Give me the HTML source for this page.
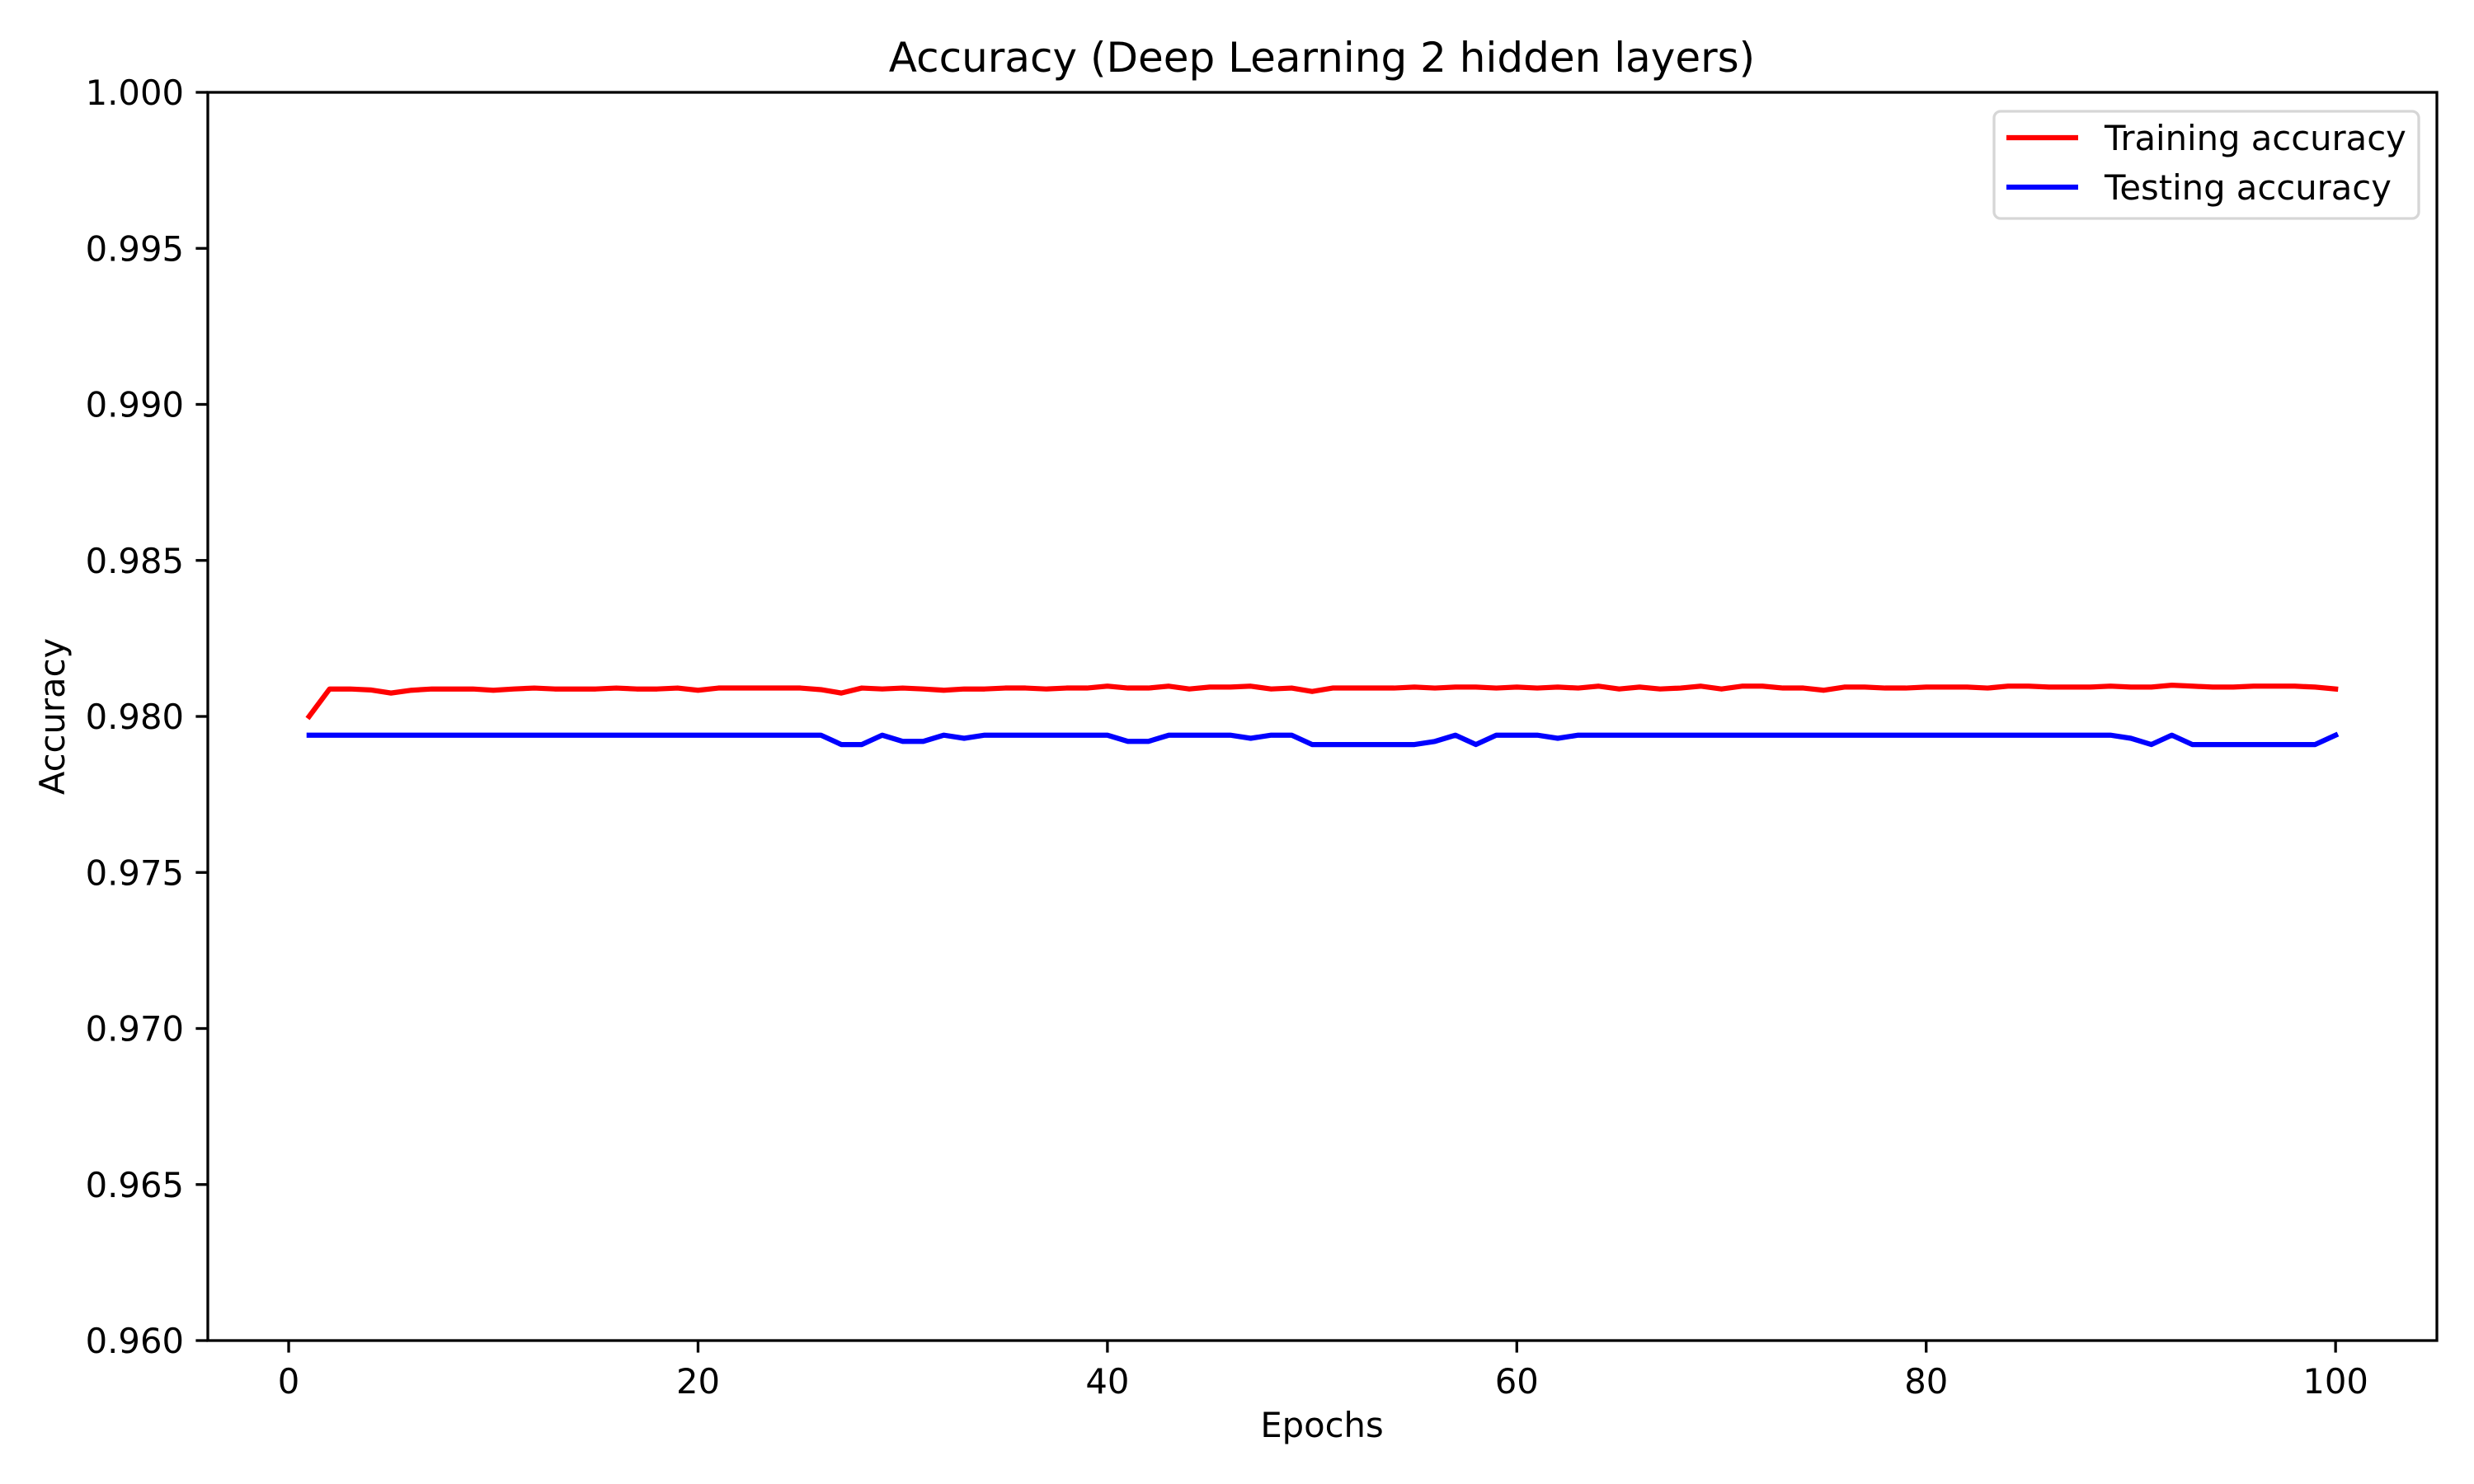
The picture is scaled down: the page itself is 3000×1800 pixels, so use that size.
<!DOCTYPE html>
<html><head><meta charset="utf-8"><style>
html,body{margin:0;padding:0;background:#fff;}
svg{display:block;font-family:"DejaVu Sans","Liberation Sans",sans-serif;}
</style></head><body>
<svg id="chart" width="3000" height="1800" viewBox="0 0 3000 1800" xmlns="http://www.w3.org/2000/svg">
<rect x="0" y="0" width="3000" height="1800" fill="#fff"/>
<text x="1603" y="87" font-size="50" text-anchor="middle">Accuracy (Deep Learning 2 hidden layers)</text>
<g id="grid"></g>
<g id="series"></g>
<rect x="252" y="112" width="2703" height="1514" fill="none" stroke="#000" stroke-width="3.3"/>
<g id="ticks"></g>
<text x="1603" y="1743" font-size="41.7" text-anchor="middle">Epochs</text>
<text x="0" y="0" font-size="41.7" text-anchor="middle" transform="translate(78,869) rotate(-90)">Accuracy</text>
<g>
<rect x="2418" y="135" width="515" height="130" rx="8" fill="#fff" fill-opacity="0.8" stroke="#d6d6d6" stroke-width="3.3"/>
<line x1="2433" y1="167" x2="2520" y2="167" stroke="#ff0000" stroke-width="6.25"/>
<text x="2552" y="182" font-size="41.7">Training accuracy</text>
<line x1="2433" y1="227" x2="2520" y2="227" stroke="#0000ff" stroke-width="6.25"/>
<text x="2552" y="242" font-size="41.7">Testing accuracy</text>
</g>
</svg>
<script>
const trainAcc = [0.9800,0.98088,0.98088,0.98085,0.98075,0.98084,0.98088,0.98088,0.98088,0.98084,
0.98088,0.98091,0.98088,0.98088,0.98088,0.98091,0.98088,0.98088,0.98091,0.98084,
0.98091,0.98091,0.98091,0.98091,0.98091,0.98086,0.98075,0.98091,0.98088,0.98091,
0.98088,0.98084,0.98088,0.98088,0.98091,0.98091,0.98088,0.98091,0.98091,0.98097,
0.98091,0.98091,0.98097,0.98088,0.98094,0.98094,0.98097,0.98088,0.98091,0.98080,
0.98091,0.98091,0.98091,0.98091,0.98094,0.98091,0.98094,0.98094,0.98091,0.98094,
0.98091,0.98094,0.98091,0.98097,0.98088,0.98094,0.98088,0.98091,0.98097,0.98088,
0.98097,0.98097,0.98091,0.98091,0.98084,0.98094,0.98094,0.98091,0.98091,0.98094,
0.98094,0.98094,0.98091,0.98097,0.98097,0.98094,0.98094,0.98094,0.98097,0.98094,
0.98094,0.98100,0.98097,0.98094,0.98094,0.98097,0.98097,0.98097,0.98094,0.98088];
const testAcc = [0.9794,0.9794,0.9794,0.9794,0.9794,0.9794,0.9794,0.9794,0.9794,0.9794,
0.9794,0.9794,0.9794,0.9794,0.9794,0.9794,0.9794,0.9794,0.9794,0.9794,
0.9794,0.9794,0.9794,0.9794,0.9794,0.9794,0.9791,0.9791,0.9794,0.9792,
0.9792,0.9794,0.9793,0.9794,0.9794,0.9794,0.9794,0.9794,0.9794,0.9794,
0.9792,0.9792,0.9794,0.9794,0.9794,0.9794,0.9793,0.9794,0.9794,0.9791,
0.9791,0.9791,0.9791,0.9791,0.9791,0.9792,0.9794,0.9791,0.9794,0.9794,
0.9794,0.9793,0.9794,0.9794,0.9794,0.9794,0.9794,0.9794,0.9794,0.9794,
0.9794,0.9794,0.9794,0.9794,0.9794,0.9794,0.9794,0.9794,0.9794,0.9794,
0.9794,0.9794,0.9794,0.9794,0.9794,0.9794,0.9794,0.9794,0.9794,0.9793,
0.9791,0.9794,0.9791,0.9791,0.9791,0.9791,0.9791,0.9791,0.9791,0.9794];
const xTicks = [0,20,40,60,80,100];
const yTicks = [0.960,0.965,0.970,0.975,0.980,0.985,0.990,0.995,1.000];
const yTickLabels = ["0.960","0.965","0.970","0.975","0.980","0.985","0.990","0.995","1.000"];

const NS = "http://www.w3.org/2000/svg";
const L=252,R=2955,T=112,B=1626;
const xMin=-3.95,xMax=104.95,yMin=0.96,yMax=1.0;
function xs(v){return L+(v-xMin)/(xMax-xMin)*(R-L);}
function ys(v){return B-(v-yMin)/(yMax-yMin)*(B-T);}

const ticks=document.getElementById('ticks');
xTicks.forEach(function(t){
  const ln=document.createElementNS(NS,'line');
  ln.setAttribute('x1',xs(t));ln.setAttribute('x2',xs(t));
  ln.setAttribute('y1',B);ln.setAttribute('y2',B+14.6);
  ln.setAttribute('stroke','#000');ln.setAttribute('stroke-width','3.3');
  
  
  ticks.appendChild(ln);
  const tx=document.createElementNS(NS,'text');
  tx.setAttribute('x',xs(t));tx.setAttribute('y',B+64);
  tx.setAttribute('font-size','41.7');tx.setAttribute('text-anchor','middle');
  tx.textContent=String(t);
  
  
  ticks.appendChild(tx);
});
yTicks.forEach(function(t,i){
  const ln=document.createElementNS(NS,'line');
  ln.setAttribute('x1',L-14.6);ln.setAttribute('x2',L);
  ln.setAttribute('y1',ys(t));ln.setAttribute('y2',ys(t));
  ln.setAttribute('stroke','#000');ln.setAttribute('stroke-width','3.3');
  
  
  ticks.appendChild(ln);
  const tx=document.createElementNS(NS,'text');
  tx.setAttribute('x',L-29);tx.setAttribute('y',ys(t)+15);
  tx.setAttribute('font-size','41.7');tx.setAttribute('text-anchor','end');
  tx.textContent=yTickLabels[i];
  
  
  ticks.appendChild(tx);
});

const series=document.getElementById('series');
function drawLine(vals,color,name){
  const pts=vals.map(function(v,i){return xs(i+1).toFixed(2)+','+ys(v).toFixed(2);}).join(' ');
  const pl=document.createElementNS(NS,'polyline');
  pl.setAttribute('points',pts);
  pl.setAttribute('fill','none');pl.setAttribute('stroke',color);
  pl.setAttribute('stroke-width','6.25');pl.setAttribute('stroke-linejoin','round');
  pl.setAttribute('stroke-linecap','square');
  
  
  series.appendChild(pl);
}
drawLine(trainAcc,'#ff0000','training-accuracy-line');
drawLine(testAcc,'#0000ff','testing-accuracy-line');
</script>
</body></html>
